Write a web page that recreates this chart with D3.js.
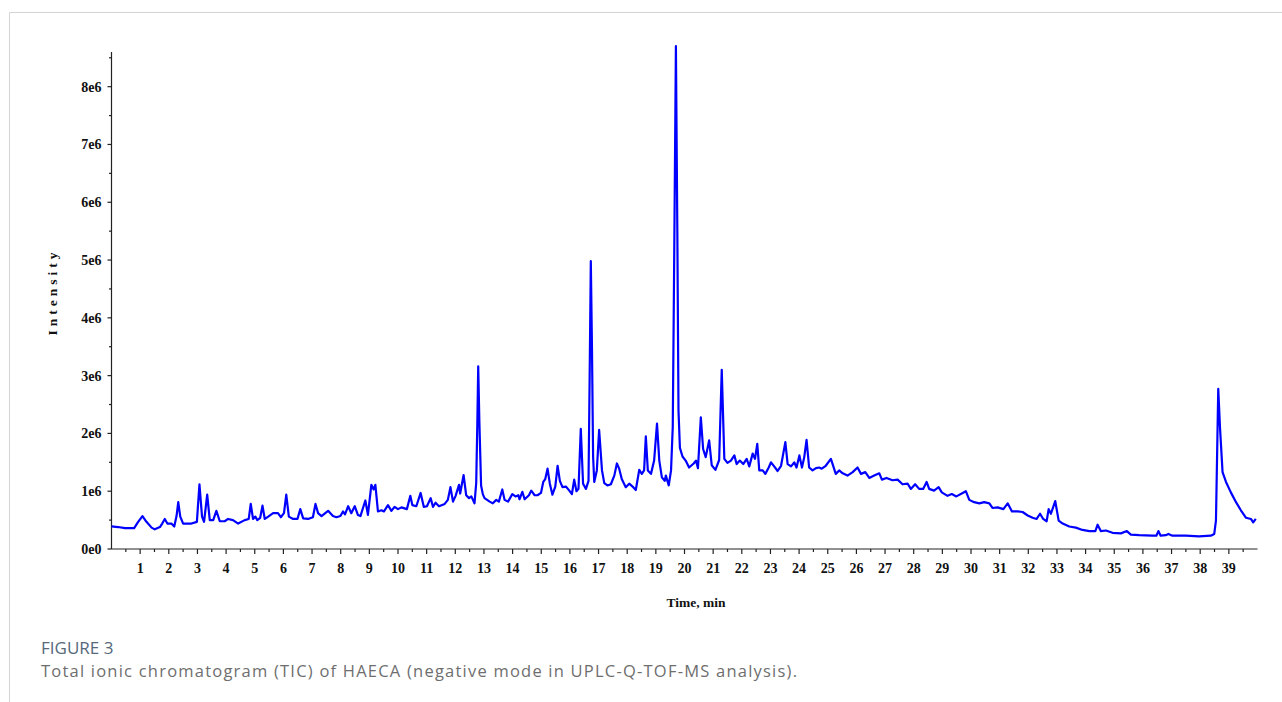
<!DOCTYPE html>
<html>
<head>
<meta charset="utf-8">
<script src="https://cdn.jsdelivr.net/npm/d3@7"></script>
<style>
  body { margin: 0; background: #fff; }
  .tick-label { font-family: "Liberation Serif", serif; font-weight: bold; font-size: 14px; fill: #111; }
  .axis-title { font-family: "Liberation Serif", serif; font-weight: bold; font-size: 13.5px; fill: #111; }
  .caption-head { font-family: "Open Sans", sans-serif; font-size: 17px; fill: #56687a; }
  .caption-text { font-family: "Open Sans", sans-serif; font-size: 16.5px; fill: #6e6e6e; }
</style>
</head>
<body>
<div id="chart"></div>
<script>
// TIC trace (time in min, intensity in units of 1e6)
const retentionTime = [
  0.00, 0.23, 0.47, 0.79, 0.93, 1.08, 1.22, 1.40, 1.51, 1.69, 1.77, 1.86, 1.95, 2.09, 2.19, 2.27, 2.33, 2.40, 2.50, 2.79,
  2.98, 3.07, 3.16, 3.23, 3.34, 3.43, 3.55, 3.66, 3.78, 3.95, 4.07, 4.24, 4.42, 4.65, 4.79, 4.86, 4.94, 5.02, 5.09, 5.19,
  5.27, 5.35, 5.47, 5.64, 5.81, 5.91, 6.02, 6.10, 6.19, 6.34, 6.49, 6.59, 6.69, 6.86, 7.03, 7.12, 7.21, 7.33, 7.56, 7.73,
  7.85, 7.99, 8.08, 8.15, 8.26, 8.37, 8.49, 8.60, 8.69, 8.86, 8.95, 9.07, 9.15, 9.21, 9.30, 9.42, 9.51, 9.65, 9.77, 9.88,
  10.00, 10.12, 10.31, 10.43, 10.50, 10.64, 10.79, 10.90, 11.01, 11.14, 11.22, 11.31, 11.43, 11.63, 11.74, 11.83, 11.92, 12.01, 12.13, 12.17,
  12.29, 12.38, 12.48, 12.56, 12.67, 12.73, 12.77, 12.80, 12.84, 12.90, 12.96, 13.02, 13.20, 13.31, 13.43, 13.52, 13.64, 13.72, 13.84, 13.99,
  14.10, 14.20, 14.24, 14.34, 14.42, 14.57, 14.65, 14.77, 14.87, 14.99, 15.07, 15.14, 15.22, 15.30, 15.39, 15.49, 15.57, 15.65, 15.74, 15.86,
  15.98, 16.07, 16.15, 16.23, 16.30, 16.38, 16.46, 16.56, 16.65, 16.69, 16.73, 16.77, 16.81, 16.85, 16.94, 17.02, 17.12, 17.20, 17.31, 17.43,
  17.55, 17.64, 17.72, 17.81, 17.95, 18.07, 18.21, 18.30, 18.42, 18.51, 18.59, 18.65, 18.72, 18.83, 18.94, 19.04, 19.12, 19.21, 19.31, 19.35,
  19.45, 19.53, 19.59, 19.64, 19.70, 19.75, 19.79, 19.84, 19.93, 20.04, 20.16, 20.32, 20.40, 20.47, 20.57, 20.65, 20.74, 20.86, 20.95, 21.08,
  21.21, 21.30, 21.39, 21.50, 21.62, 21.74, 21.82, 21.93, 22.05, 22.17, 22.26, 22.38, 22.46, 22.54, 22.61, 22.73, 22.82, 22.94, 23.02, 23.13,
  23.25, 23.37, 23.52, 23.60, 23.72, 23.83, 23.91, 24.01, 24.10, 24.18, 24.26, 24.35, 24.47, 24.59, 24.70, 24.79, 24.93, 25.11, 25.28, 25.40,
  25.52, 25.69, 25.87, 26.04, 26.16, 26.31, 26.45, 26.62, 26.80, 26.89, 27.05, 27.26, 27.44, 27.61, 27.79, 27.90, 28.05, 28.19, 28.33, 28.45,
  28.54, 28.71, 28.87, 28.98, 29.18, 29.33, 29.49, 29.71, 29.82, 29.94, 30.11, 30.29, 30.46, 30.64, 30.75, 30.93, 31.13, 31.28, 31.43, 31.63,
  31.80, 31.98, 32.15, 32.29, 32.41, 32.52, 32.64, 32.71, 32.79, 32.94, 33.06, 33.20, 33.43, 33.66, 33.89, 34.13, 34.34, 34.42, 34.53, 34.71,
  34.94, 35.23, 35.44, 35.58, 35.87, 36.33, 36.47, 36.54, 36.62, 36.80, 36.89, 37.03, 37.50, 37.96, 38.37, 38.49, 38.55, 38.63, 38.69, 38.78,
  38.90, 39.07, 39.25, 39.42, 39.60, 39.77, 39.85, 39.94
]
const intensity = [
  0.39, 0.38, 0.36, 0.36, 0.47, 0.57, 0.47, 0.37, 0.34, 0.38, 0.44, 0.52, 0.44, 0.44, 0.39, 0.57, 0.81, 0.56, 0.44, 0.44,
  0.47, 1.12, 0.56, 0.47, 0.94, 0.50, 0.50, 0.66, 0.48, 0.48, 0.52, 0.50, 0.44, 0.50, 0.52, 0.78, 0.52, 0.56, 0.50, 0.54,
  0.75, 0.52, 0.56, 0.62, 0.62, 0.55, 0.62, 0.94, 0.56, 0.52, 0.52, 0.69, 0.53, 0.52, 0.55, 0.78, 0.62, 0.57, 0.66, 0.57,
  0.55, 0.57, 0.65, 0.60, 0.74, 0.62, 0.74, 0.59, 0.57, 0.84, 0.59, 1.11, 1.03, 1.11, 0.65, 0.67, 0.65, 0.76, 0.66, 0.73,
  0.69, 0.72, 0.69, 0.92, 0.76, 0.74, 0.97, 0.73, 0.74, 0.88, 0.73, 0.80, 0.74, 0.78, 0.85, 1.07, 0.82, 0.92, 1.11, 0.96,
  1.28, 0.93, 0.88, 0.91, 0.79, 1.14, 2.20, 3.16, 2.20, 1.10, 0.95, 0.88, 0.82, 0.79, 0.85, 0.82, 1.03, 0.85, 0.82, 0.95,
  0.91, 0.93, 0.86, 0.99, 0.86, 0.93, 1.01, 0.93, 0.93, 0.97, 1.16, 1.21, 1.39, 1.13, 0.94, 1.08, 1.44, 1.18, 1.07, 1.08,
  1.01, 0.95, 1.20, 1.00, 1.04, 2.08, 1.13, 1.04, 1.18, 3.00, 4.98, 3.50, 1.60, 1.16, 1.36, 2.06, 1.36, 1.14, 1.10, 1.12,
  1.27, 1.48, 1.39, 1.21, 1.07, 1.13, 1.07, 1.02, 1.37, 1.30, 1.36, 1.95, 1.36, 1.30, 1.53, 2.17, 1.53, 1.24, 1.18, 1.27,
  1.10, 1.36, 2.11, 5.00, 8.70, 5.50, 2.40, 1.75, 1.60, 1.53, 1.41, 1.48, 1.53, 1.40, 2.28, 1.73, 1.59, 1.88, 1.45, 1.37,
  1.54, 3.10, 1.56, 1.49, 1.53, 1.62, 1.47, 1.53, 1.47, 1.56, 1.43, 1.65, 1.56, 1.82, 1.36, 1.36, 1.30, 1.41, 1.50, 1.43,
  1.35, 1.44, 1.85, 1.47, 1.43, 1.50, 1.41, 1.62, 1.41, 1.59, 1.89, 1.41, 1.36, 1.40, 1.41, 1.39, 1.44, 1.56, 1.30, 1.36,
  1.31, 1.27, 1.33, 1.41, 1.30, 1.33, 1.23, 1.27, 1.31, 1.20, 1.23, 1.19, 1.20, 1.12, 1.13, 1.04, 1.12, 1.04, 1.04, 1.16,
  1.04, 1.01, 1.07, 0.98, 0.92, 0.95, 0.91, 0.97, 1.00, 0.85, 0.81, 0.79, 0.81, 0.79, 0.71, 0.72, 0.69, 0.79, 0.65, 0.65,
  0.64, 0.58, 0.54, 0.52, 0.61, 0.52, 0.48, 0.69, 0.61, 0.83, 0.49, 0.44, 0.39, 0.37, 0.33, 0.31, 0.31, 0.42, 0.31, 0.32,
  0.28, 0.27, 0.31, 0.25, 0.24, 0.23, 0.23, 0.31, 0.23, 0.24, 0.26, 0.23, 0.23, 0.22, 0.23, 0.26, 0.49, 2.77, 2.11, 1.33,
  1.16, 0.98, 0.81, 0.67, 0.54, 0.52, 0.46, 0.52
]
const xTickValues = d3.range(1, 40)
const yTickValues = d3.range(0, 9)
const yTickLabels = ["0e0", "1e6", "2e6", "3e6", "4e6", "5e6", "6e6", "7e6", "8e6"]
const xTitle = "Time, min"
const yTitle = "Intensity"
const figLabel = "FIGURE 3"
const figCaption = "Total ionic chromatogram (TIC) of HAECA (negative mode in UPLC-Q-TOF-MS analysis)."

const width = 1282
const height = 702
const plotLeft = 111.5, plotRight = 1257.5, plotTop = 52, plotBottom = 549

const svg = d3.select("#chart").append("svg")
  .attr("viewBox", [0, 0, width, height])
  .attr("width", width)
  .attr("height", height)
  .style("display", "block")

// card frame (top + left border)
svg.append("path")
  .attr("d", `M9.5,${height} V12.5 H${width}`)
  .attr("fill", "none")
  .attr("stroke", "#d4d4d4")
  .attr("stroke-width", 1)

const x = d3.scaleLinear().domain([0, 40]).range([plotLeft, plotRight])
const y = d3.scaleLinear().domain([0, 8.6]).range([plotBottom, plotTop])

const axes = svg.append("g").attr("stroke", "#222").attr("stroke-width", 1.2)

axes.append("line")
  .attr("x1", plotLeft).attr("x2", plotLeft).attr("y1", plotTop).attr("y2", plotBottom)
axes.append("line")
  .attr("x1", plotLeft).attr("x2", plotRight).attr("y1", plotBottom).attr("y2", plotBottom)

// y ticks, major and half steps
axes.selectAll(".ymaj").data(yTickValues).enter().append("line")
  .attr("x1", plotLeft - 4).attr("x2", plotLeft)
  .attr("y1", d => y(d)).attr("y2", d => y(d))
axes.selectAll(".ymin").data(d3.range(0.5, 8.6, 1)).enter().append("line")
  .attr("x1", plotLeft - 2.5).attr("x2", plotLeft)
  .attr("y1", d => y(d)).attr("y2", d => y(d))

// x ticks, major and half steps
axes.selectAll(".xmaj").data(xTickValues).enter().append("line")
  .attr("x1", d => x(d)).attr("x2", d => x(d))
  .attr("y1", plotBottom).attr("y2", plotBottom + 5)
axes.selectAll(".xmin").data(d3.range(0.5, 40, 1)).enter().append("line")
  .attr("x1", d => x(d)).attr("x2", d => x(d))
  .attr("y1", plotBottom).attr("y2", plotBottom + 3)

svg.append("g").selectAll("text")
  .data(yTickValues)
  .enter().append("text")
  .classed("tick-label", true)
  .attr("x", plotLeft - 10)
  .attr("y", d => y(d) + 5)
  .attr("text-anchor", "end")
  .text((d, i) => yTickLabels[i])

svg.append("g").selectAll("text")
  .data(xTickValues)
  .enter().append("text")
  .classed("tick-label", true)
  .attr("x", d => x(d))
  .attr("y", plotBottom + 24)
  .attr("text-anchor", "middle")
  .text(d => d)

svg.append("text").classed("axis-title", true)
  .attr("x", 696).attr("y", 607)
  .attr("text-anchor", "middle")
  .text(xTitle)

svg.append("text").classed("axis-title", true)
  .attr("transform", "translate(57,292) rotate(-90)")
  .attr("text-anchor", "middle")
  .attr("letter-spacing", "4px")
  .text(yTitle)

// the trace
const points = retentionTime.map((t, i) => [t, intensity[i]])
const line = d3.line()
  .x(d => x(d[0]))
  .y(d => y(d[1]))

svg.append("path")
  .datum(points)
  .attr("fill", "none")
  .attr("stroke", "#0000ff")
  .attr("stroke-width", 2.2)
  .attr("stroke-linejoin", "round")
  .attr("d", line)

svg.append("text").classed("caption-head", true)
  .attr("x", 41).attr("y", 654)
  .text(figLabel)

svg.append("text").classed("caption-text", true)
  .attr("x", 41).attr("y", 677)
  .attr("textLength", 756)
  .attr("lengthAdjust", "spacing")
  .text(figCaption)
</script>
</body>
</html>
